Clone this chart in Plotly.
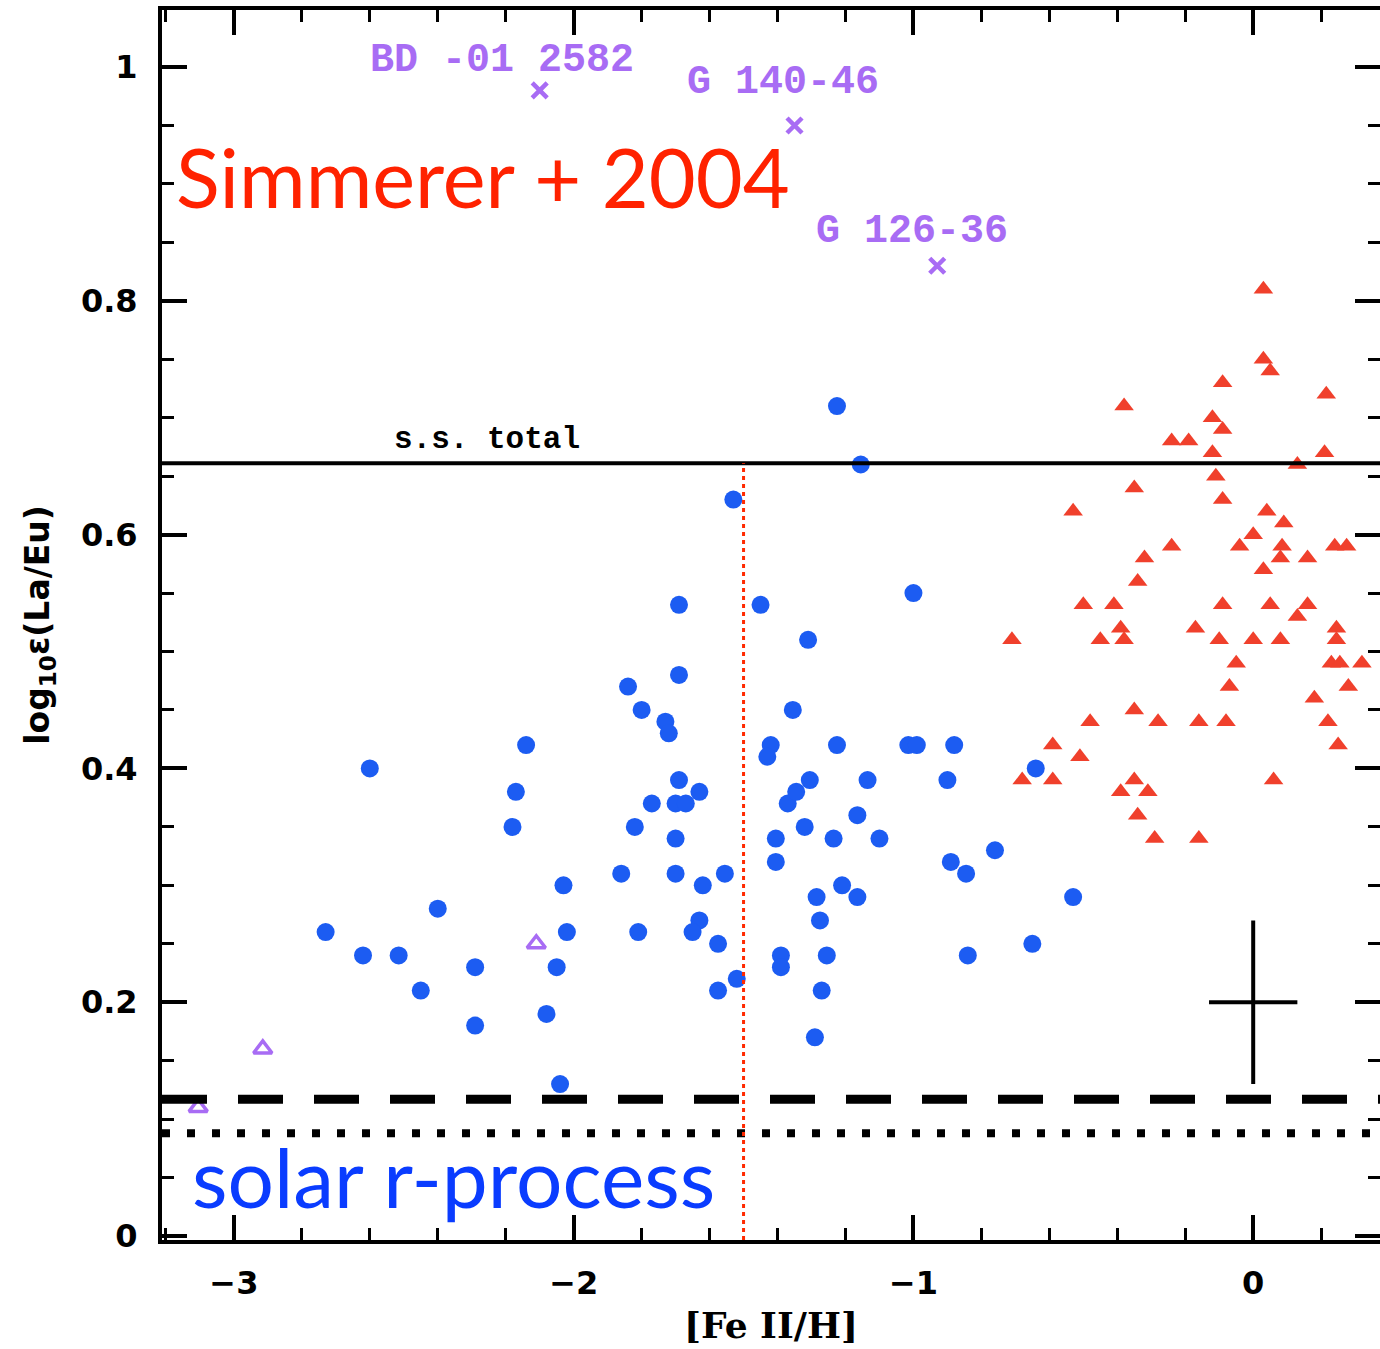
import plotly.graph_objects as go

# ---------------- data ----------------
# Blue filled circles: [Fe II/H], log eps(La/Eu)
blue_feh = [-2.60, -2.73, -2.62, -2.515, -2.45, -2.40, -2.29, -2.29, -2.17, -2.14, -2.18, -2.03, -2.02, -2.05, -2.08, -2.04,
            -1.84, -1.80, -1.86, -1.82, -1.81, -1.77, -1.73, -1.72, -1.69, -1.69, -1.69, -1.70, -1.67, -1.70, -1.70, -1.63,
            -1.62, -1.63, -1.65, -1.575, -1.555, -1.575, -1.52, -1.53,
            -1.45, -1.42, -1.43, -1.405, -1.405, -1.39, -1.39, -1.37, -1.345, -1.355, -1.31, -1.305, -1.32, -1.285, -1.275,
            -1.255, -1.27, -1.29, -1.225, -1.155, -1.225, -1.235, -1.21, -1.165, -1.165, -1.135, -1.10,
            -1.00, -1.015, -0.99, -0.88, -0.90, -0.89, -0.845, -0.76, -0.84, -0.64, -0.65, -0.53]
blue_laeu = [0.40, 0.26, 0.24, 0.24, 0.21, 0.28, 0.23, 0.18, 0.38, 0.42, 0.35, 0.30, 0.26, 0.23, 0.19, 0.13,
             0.47, 0.45, 0.31, 0.35, 0.26, 0.37, 0.44, 0.43, 0.54, 0.48, 0.39, 0.37, 0.37, 0.34, 0.31, 0.38,
             0.30, 0.27, 0.26, 0.25, 0.31, 0.21, 0.22, 0.63,
             0.54, 0.42, 0.41, 0.34, 0.32, 0.24, 0.23, 0.37, 0.38, 0.45, 0.51, 0.39, 0.35, 0.29, 0.27,
             0.24, 0.21, 0.17, 0.71, 0.66, 0.42, 0.34, 0.30, 0.29, 0.36, 0.39, 0.34,
             0.55, 0.42, 0.42, 0.42, 0.39, 0.32, 0.31, 0.33, 0.24, 0.40, 0.25, 0.29]

# Red filled triangles
red_feh = [0.03, 0.03, 0.05, -0.09, 0.215, -0.38, -0.12, -0.09, -0.24, -0.19, -0.12, 0.21, 0.13, -0.11, -0.35, -0.09,
           -0.53, 0.04, 0.09, 0.00, -0.24, -0.04, 0.085, 0.24, 0.275, -0.32, 0.08, 0.16, 0.03,
           -0.34, -0.50, -0.41, -0.09, 0.05, 0.16, 0.13, -0.39, -0.17, 0.245, -0.71, -0.45, -0.38, -0.10, 0.00, 0.08, 0.245,
           -0.05, 0.23, 0.255, 0.32, -0.07, 0.28, 0.18, -0.35, -0.48, -0.28, -0.16, -0.08, 0.22, 0.25, -0.59, -0.51,
           -0.68, -0.59, -0.35, 0.06, -0.39, -0.31, -0.34, -0.29, -0.16]
red_laeu = [0.81, 0.75, 0.74, 0.73, 0.72, 0.71, 0.70, 0.69, 0.68, 0.68, 0.67, 0.67, 0.66, 0.65, 0.64, 0.63,
            0.62, 0.62, 0.61, 0.60, 0.59, 0.59, 0.59, 0.59, 0.59, 0.58, 0.58, 0.58, 0.57,
            0.56, 0.54, 0.54, 0.54, 0.54, 0.54, 0.53, 0.52, 0.52, 0.52, 0.51, 0.51, 0.51, 0.51, 0.51, 0.51, 0.51,
            0.49, 0.49, 0.49, 0.49, 0.47, 0.47, 0.46, 0.45, 0.44, 0.44, 0.44, 0.44, 0.44, 0.42, 0.42, 0.41,
            0.39, 0.39, 0.39, 0.39, 0.38, 0.38, 0.36, 0.34, 0.34]

# Purple open triangles
purple_tri_feh = [-3.105, -2.915, -2.11]
purple_tri_laeu = [0.11, 0.16, 0.25]

# Purple crosses (labelled stars)
star_names = ["BD -01 2582", "G 140-46", "G 126-36"]
star_feh = [-2.10, -1.35, -0.93]
star_laeu = [0.98, 0.95, 0.83]
star_label_feh = [-2.605, -1.672, -1.292]
star_label_laeu = [1.006, 0.987, 0.859]

# Reference levels
ss_total = 0.661
solar_r_dashed = 0.117
solar_r_dotted = 0.088
feh_divider = -1.5

# Typical error bar
err_feh, err_laeu = 0.0, 0.20
err_dx, err_dy = 0.13, 0.07

x_range = [-3.2116, 0.3732]
y_range = [-0.0034, 1.0488]

BLUE = "#1c5cf2"
RED = "#f0402c"
PURPLE = "#a86cf4"

fig = go.Figure()

fig.add_trace(go.Scatter(x=blue_feh, y=blue_laeu, mode="markers",
                         marker=dict(symbol="circle", size=18, color=BLUE), showlegend=False))
fig.add_trace(go.Scatter(x=red_feh, y=red_laeu, mode="markers",
                         marker=dict(symbol="triangle-up", size=17, color=RED), showlegend=False))
fig.add_trace(go.Scatter(x=purple_tri_feh, y=purple_tri_laeu, mode="markers",
                         marker=dict(symbol="triangle-up-open", size=16, color=PURPLE,
                                     line=dict(width=3.5, color=PURPLE)), showlegend=False))
fig.add_trace(go.Scatter(x=star_feh, y=star_laeu, mode="markers",
                         marker=dict(symbol="x-thin", size=15, color=PURPLE,
                                     line=dict(width=4.5, color=PURPLE)), showlegend=False))
# error cross
fig.add_trace(go.Scatter(x=[err_feh], y=[err_laeu], mode="markers",
                         marker=dict(size=1, color="rgba(0,0,0,0)"),
                         error_x=dict(type="constant", value=err_dx, color="black", thickness=4, width=0),
                         error_y=dict(type="constant", value=err_dy, color="black", thickness=4, width=0),
                         showlegend=False))

# reference lines
fig.add_shape(type="line", xref="paper", x0=0, x1=1, yref="y", y0=ss_total, y1=ss_total,
              line=dict(color="black", width=4))
fig.add_shape(type="line", xref="paper", x0=0, x1=1, yref="y", y0=solar_r_dashed, y1=solar_r_dashed,
              line=dict(color="black", width=9, dash="45px,31px"))
fig.add_shape(type="line", xref="paper", x0=0, x1=1, yref="y", y0=solar_r_dotted, y1=solar_r_dotted,
              line=dict(color="black", width=8, dash="8px,17px"))
fig.add_shape(type="line", xref="x", x0=feh_divider, x1=feh_divider, yref="y", y0=y_range[0], y1=ss_total,
              line=dict(color="#ff2a00", width=3, dash="4px,4px"))

# annotations
fig.add_annotation(x=-2.536, y=ss_total + 0.004, xref="x", yref="y", text="s.s. total", showarrow=False,
                   xanchor="left", yanchor="bottom",
                   font=dict(family="Liberation Mono", size=31, color="black", weight="bold"))
for name, lx, ly in zip(star_names, star_label_feh, star_label_laeu):
    fig.add_annotation(x=lx, y=ly, xref="x", yref="y", text=name, showarrow=False,
                       xanchor="left", yanchor="middle",
                       font=dict(family="Liberation Mono", size=40, color=PURPLE, weight="bold"))
fig.add_annotation(x=-3.176, y=0.906, xref="x", yref="y", text="Simmerer + 2004", showarrow=False,
                   xanchor="left", yanchor="middle",
                   font=dict(family="Lato", size=81, color="#ff2200"))
fig.add_annotation(x=-3.13, y=0.051, xref="x", yref="y", text="solar r-process", showarrow=False,
                   xanchor="left", yanchor="middle",
                   font=dict(family="Lato", size=82, color="#0a3cff"))

tickfont = dict(family="DejaVu Sans", size=32, color="black", weight="bold")

fig.update_xaxes(range=x_range, showline=True, linewidth=4, linecolor="black", mirror="ticks",
                 ticks="inside", ticklen=25, tickwidth=4, tickcolor="black", dtick=1, tick0=0,
                 minor=dict(dtick=0.2, ticks="inside", ticklen=12, tickwidth=3, tickcolor="black"),
                 showgrid=False, zeroline=False, tickfont=tickfont, ticklabelstandoff=12,
                 title=dict(text="[Fe II/H]", standoff=12,
                            font=dict(family="DejaVu Serif", size=36, color="black", weight="bold")))
fig.update_yaxes(range=y_range, showline=True, linewidth=4, linecolor="black", mirror="ticks",
                 ticks="inside", ticklen=25, tickwidth=4, tickcolor="black", dtick=0.2, tick0=0,
                 minor=dict(dtick=0.05, ticks="inside", ticklen=12, tickwidth=3, tickcolor="black"),
                 showgrid=False, zeroline=False, tickfont=tickfont, ticklabelstandoff=14,
                 title=dict(text="log<sub>10</sub>ε(La/Eu)", standoff=22,
                            font=dict(family="DejaVu Sans", size=33, color="black", weight="bold")))

fig.update_layout(width=1380, height=1349, margin=dict(l=162, r=0, t=10, b=109, autoexpand=False),
                  paper_bgcolor="white", plot_bgcolor="white", showlegend=False)

fig.write_html("out.html")
